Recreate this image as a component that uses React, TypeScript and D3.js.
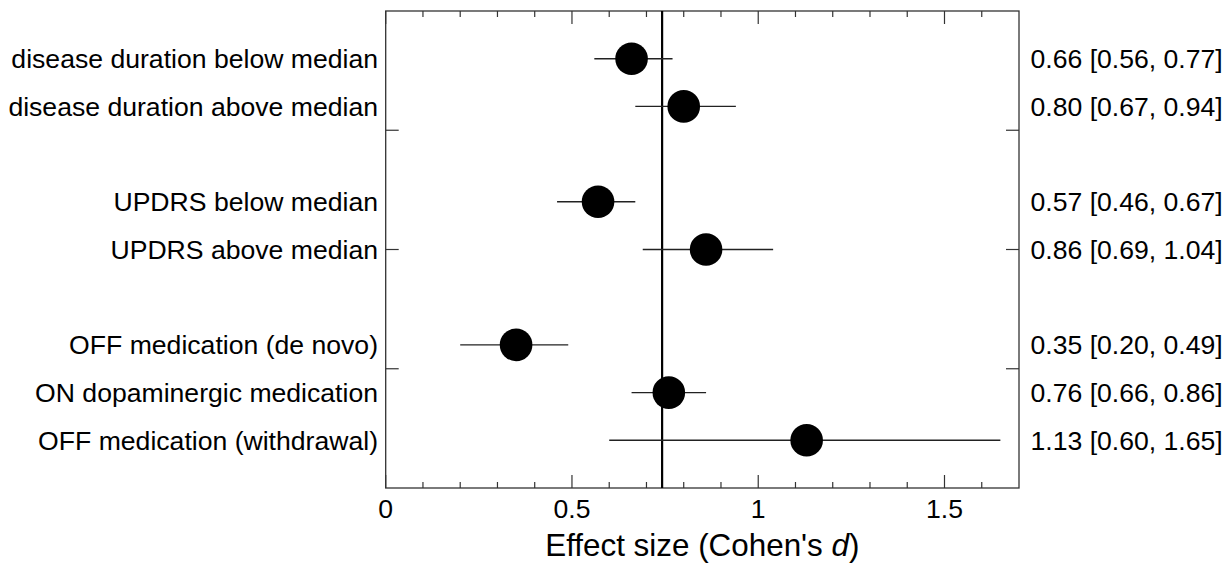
import React from "react";
import * as d3 from "d3";

const labels = [
  "disease duration below median",
  "disease duration above median",
  "UPDRS below median",
  "UPDRS above median",
  "OFF medication (de novo)",
  "ON dopaminergic medication",
  "OFF medication (withdrawal)",
];
const slots = [0, 1, 3, 4, 6, 7, 8];
const estimates = [0.66, 0.8, 0.57, 0.86, 0.35, 0.76, 1.13];
const lower = [0.56, 0.67, 0.46, 0.69, 0.2, 0.66, 0.6];
const upper = [0.77, 0.94, 0.67, 1.04, 0.49, 0.86, 1.65];
const overall = 0.742;
const xMajor = [0, 0.5, 1, 1.5];
const xMajorLabels = ["0", "0.5", "1", "1.5"];
const xMinor = [0.1, 0.2, 0.3, 0.4, 0.6, 0.7, 0.8, 0.9, 1.1, 1.2, 1.3, 1.4, 1.6];
const yTicks = [1.5, 4, 6.5];

const W = 1232;
const H = 563;
const L = 385.7;
const R = 1019;
const T = 11;
const B = 488;

export default function App() {
  const x = d3.scaleLinear().domain([0, 1.7]).range([L, R]);
  const y = d3.scaleLinear().domain([-1, 9]).range([T, B]);
  const fmt = d3.format(".2f");
  const font = "'Liberation Sans', Arial, sans-serif";
  const frame = "#333";
  const fs = 26.6;
  return (
    <svg
      width={W}
      height={H}
      style={{ position: "absolute", left: 0, top: 0, background: "#fff" }}
      fontFamily={font}
    >
      <rect x={0} y={0} width={W} height={H} fill="#fff" />
      {xMinor.map((v) => (
        <g key={"mi" + v} stroke={frame} strokeWidth={1.2}>
          <line x1={x(v)} x2={x(v)} y1={T} y2={T + 6} />
          <line x1={x(v)} x2={x(v)} y1={B} y2={B - 6} />
        </g>
      ))}
      {xMajor.map((v) => (
        <g key={"ma" + v} stroke={frame} strokeWidth={1.2}>
          <line x1={x(v)} x2={x(v)} y1={T} y2={T + 13} />
          <line x1={x(v)} x2={x(v)} y1={B} y2={B - 13} />
        </g>
      ))}
      {yTicks.map((v) => (
        <g key={"yt" + v} stroke={frame} strokeWidth={1.2}>
          <line x1={L} x2={L + 13} y1={y(v)} y2={y(v)} />
          <line x1={R} x2={R - 13} y1={y(v)} y2={y(v)} />
        </g>
      ))}
      <rect x={L} y={T} width={R - L} height={B - T} fill="none" stroke={frame} strokeWidth={1.3} />
      <line x1={x(overall)} x2={x(overall)} y1={T} y2={B} stroke="#000" strokeWidth={2.2} />
      {labels.map((lab, i) => (
        <g key={lab}>
          <line
            x1={x(lower[i])}
            x2={x(upper[i])}
            y1={y(slots[i])}
            y2={y(slots[i])}
            stroke="#222"
            strokeWidth={1.4}
          />
          <circle cx={x(estimates[i])} cy={y(slots[i])} r={16.3} fill="#000" />
          <text x={378} y={y(slots[i])} dy="0.36em" textAnchor="end" fontSize={fs} fill="#000">
            {lab}
          </text>
          <text x={1030.5} y={y(slots[i])} dy="0.36em" fontSize={fs} fill="#000">
            {`${fmt(estimates[i])} [${fmt(lower[i])}, ${fmt(upper[i])}]`}
          </text>
        </g>
      ))}
      {xMajor.map((v, i) => (
        <text key={"xl" + v} x={x(v)} y={518} textAnchor="middle" fontSize={fs} fill="#000">
          {xMajorLabels[i]}
        </text>
      ))}
      <text x={(L + R) / 2} y={556} textAnchor="middle" fontSize={31.4} fill="#000">
        Effect size (Cohen's <tspan fontStyle="italic">d</tspan>)
      </text>
    </svg>
  );
}
